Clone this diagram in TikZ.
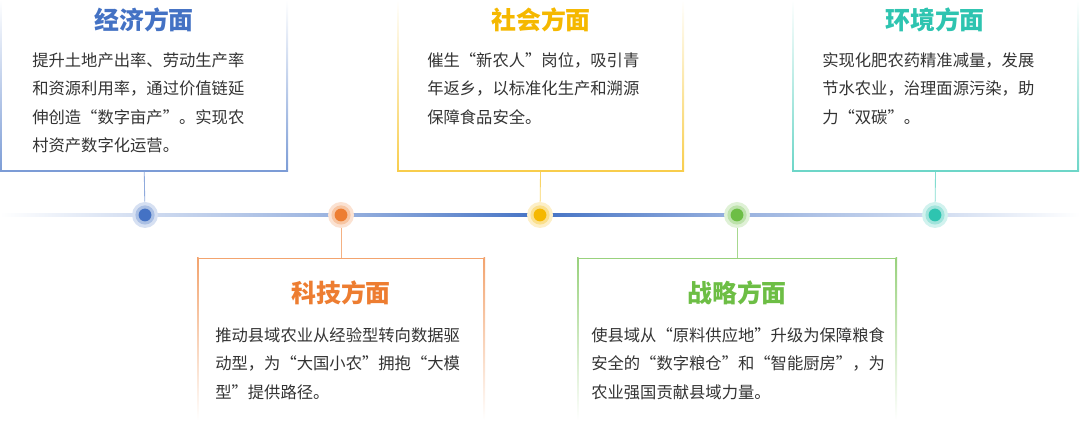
\documentclass[tikz,border=0pt]{standalone}
\usepackage{fontspec}
\setmainfont{Noto Sans CJK SC}
\usetikzlibrary{positioning}
\definecolor{econ}{HTML}{4472C4}
\definecolor{tech}{HTML}{ED7D31}
\definecolor{soc}{HTML}{F5B800}
\definecolor{strat}{HTML}{6DBE45}
\definecolor{env}{HTML}{2EC4B0}
\definecolor{textgray}{HTML}{333333}
\pgfdeclarehorizontalshading{timeline}{100bp}{color(0bp)=(white); color(25bp)=(white);
	color(31.7bp)=(econ!25); color(40.8bp)=(econ!55); color(50bp)=(econ);
	color(59.1bp)=(econ!55); color(68.3bp)=(econ!25); color(75bp)=(white); color(100bp)=(white)}

\begin{document}
\begin{tikzpicture}[x=0.025cm,y=-0.025cm]
	\tikzstyle{title}=[inner sep=0pt, font=\fontsize{17.7}{20}\selectfont\bfseries]
	\tikzstyle{body}=[inner sep=0pt, anchor=north west, align=left, text=textgray, font=\fontsize{11.6}{20.3}\selectfont]
	\tikzstyle{halo}=[circle, inner sep=0pt, minimum size=0.65cm]
	\tikzstyle{link}=[line width=0.6pt]
	\useasboundingbox (0,0) rectangle (1080,431);
	
	% Draw the time line
	\shade[shading=timeline] (0,213.5) rectangle (1080,216.5);
	
	% Draw the upper boxes
	\foreach \name/\l/\r in {econ/0.5/288, soc/397/684, env/792/1079}{
		\shade[top color=white, bottom color=\name!70, middle color=\name!35] (\l,0) rectangle (\l+1.5,172);
		\shade[top color=white, bottom color=\name!70, middle color=\name!35] (\r-1.5,0) rectangle (\r,172);
		\fill[\name!70] (\l,170.5) rectangle (\r,172);
		\coordinate (B-\name) at ({(\l+\r)/2},172);
	}
	
	% Draw the lower boxes
	\foreach \name/\l/\r in {tech/197/485, strat/577/897}{
		\shade[top color=\name!70, bottom color=white, middle color=\name!35] (\l,258) rectangle (\l+1.5,420);
		\shade[top color=\name!70, bottom color=white, middle color=\name!35] (\r-1.5,258) rectangle (\r,420);
		\fill[\name!70] (\l,258) rectangle (\r,259.5);
		\coordinate (B-\name) at ({(\l+\r)/2},258);
	}
	
	% Draw the dots on the time line
	\foreach \name/\x in {econ/145, tech/341, soc/540, strat/737, env/935}{
		\node[halo, fill=\name!22] (D-\name) at (\x,215) {};
		\fill[\name!45] (D-\name) circle (0.24cm);
		\fill[\name] (D-\name) circle (0.16cm);
	}
	
	% Connect every box with its dot
	\foreach \name in {econ, soc, env, tech, strat}
	\draw[link, \name!60] (B-\name) -- (D-\name);
	
	% Annotate the boxes
	\node[title, text=econ] (T-econ) at (144,20) {经济方面};
	\node[title, text=soc] (T-soc) at (541,20) {社会方面};
	\node[title, text=env] (T-env) at (935,20) {环境方面};
	\node[title, text=tech] (T-tech) at (341,293) {科技方面};
	\node[title, text=strat] (T-strat) at (737,293) {战略方面};
	
	\node[body] (X-econ) at (32,52) {提升土地产出率、劳动生产率\\和资源利用率，通过价值链延\\伸创造“数字亩产”。实现农\\村资产数字化运营。};
	\node[body] (X-soc) at (427,52) {催生“新农人”岗位，吸引青\\年返乡，以标准化生产和溯源\\保障食品安全。};
	\node[body] (X-env) at (822,52) {实现化肥农药精准减量，发展\\节水农业，治理面源污染，助\\力“双碳”。};
	\node[body] (X-tech) at (215,327) {推动县域农业从经验型转向数据驱\\动型，为“大国小农”拥抱“大模\\型”提供路径。};
	\node[body] (X-strat) at (591,327) {使县域从“原料供应地”升级为保障粮食\\安全的“数字粮仓”和“智能厨房”，为\\农业强国贡献县域力量。};
	
\end{tikzpicture}
\end{document}
